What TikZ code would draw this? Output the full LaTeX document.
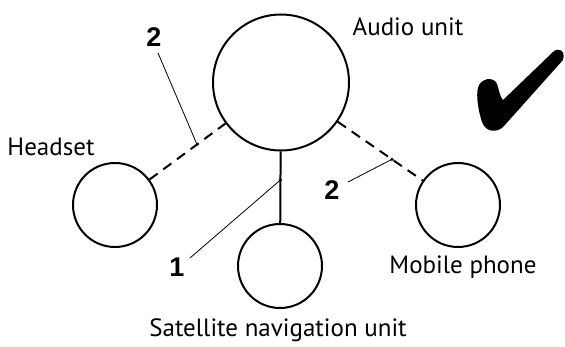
\documentclass[tikz,border=0pt]{standalone}
\usepackage{fontspec}
\setmainfont{PT Sans}
\newfontfamily\numfont{Liberation Sans}
\usetikzlibrary{calc}
\begin{document}
\begin{tikzpicture}[x=1pt,y=-1pt,
  unit/.style={circle,draw,line width=2pt,inner sep=0pt},
  lbl/.style={font=\fontsize{25}{28}\selectfont,inner sep=0pt,anchor=base},
  num/.style={font=\numfont\bfseries\fontsize{27}{30}\selectfont,inner sep=0pt,anchor=base},
  link/.style={line width=2pt},
  dlink/.style={line width=2pt,dash pattern=on 10pt off 7pt},
  leader/.style={line width=0.8pt},
  dotp/.style={circle,fill,inner sep=0pt,minimum size=3.5pt}]
\useasboundingbox (0,0) rectangle (565,347);
\node[unit,minimum size=136pt] (audio) at (281,82.5) {};
\node[unit,minimum size=84pt] (head) at (115,205) {};
\node[unit,minimum size=84pt] (sat) at (280,266) {};
\node[unit,minimum size=84pt] (mob) at (458,205) {};
\node[lbl] (tAudio) at (408,36) {Audio unit};
\node[lbl] (tHead) at (51,156) {Headset};
\node[lbl] (tMob) at (463,274) {Mobile phone};
\node[lbl] (tSat) at (278,337) {Satellite navigation unit};
\draw[dlink] (head) -- (audio);
\draw[dlink] (audio) -- (mob);
\draw[link] (audio) -- (sat);
\coordinate (d1) at ($(head.center)!0.494!(audio.center)$);
\coordinate (d2) at ($(audio.center)!0.627!(mob.center)$);
\coordinate (d3) at ($(audio.center)!0.531!(sat.center)$);
\node[dotp] (p1) at (d1) {};
\node[dotp] (p2) at (d2) {};
\node[dotp] (p3) at (d3) {};
\node[num] (n2a) at (154,47) {2};
\node[num] (n2b) at (332,200) {2};
\node[num] (n1) at (177,277) {1};
\coordinate (e2a) at (158,53);
\coordinate (e2b) at (348,182);
\coordinate (e1) at (190,258);
\draw[leader] (e2a) -- (d1);
\draw[leader] (e2b) -- (d2);
\draw[leader] (e1) -- (d3);
\fill (503,100) -- (553,52) .. controls (558,47) and (566,50) .. (563,60)
  -- (504,126) .. controls (498,133) and (486,133) .. (482,122)
  .. controls (478,110) and (476,95) .. (478,88)
  .. controls (480,78) and (494,76) .. (497,84)
  .. controls (499,90) and (500,97) .. (503,100) -- cycle;
\end{tikzpicture}
\end{document}
